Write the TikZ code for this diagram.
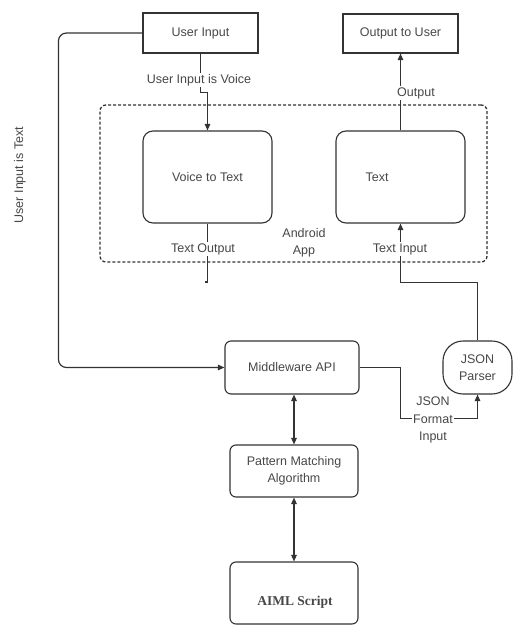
\documentclass[tikz,border=0pt]{standalone}
\usepackage{fontspec}
\setmainfont{Liberation Sans}
\newfontfamily\aimlfont{Liberation Serif}
\usetikzlibrary{arrows.meta}

\begin{document}
\begin{tikzpicture}[x=1pt,y=-1pt,
  >={Triangle[length=6.5pt,width=5.5pt]},
  every node/.style={font=\fontsize{12.5}{17.5}\selectfont,text=black!72},
  box/.style={draw=black!80,line width=1.1pt,inner sep=0pt,align=center},
  wire/.style={draw=black!80,line width=1.2pt},
  tag/.style={fill=white,inner sep=1pt,align=center}]
  \useasboundingbox (0,0) rectangle (513,626);
  % boxes
  \node[box,minimum width=115,minimum height=40] (uin) at (200.5,33) {User Input};
  \node[box,minimum width=115,minimum height=39] (out) at (400.5,33.5) {Output to User};
  \node[box,line width=1.3pt,dash pattern=on 3pt off 2pt,rounded corners=6,minimum width=387,minimum height=157] (app) at (293.5,183.5) {};
  \node[box,rounded corners=10,minimum width=129,minimum height=92] (v2t) at (207.5,177) {Voice to Text};
  \node[box,rounded corners=10,minimum width=129,minimum height=92] (txt) at (400.5,177) {};
  \node (txtname) at (377,177) {Text};
  \node[align=center] (andr) at (304,243) {Android\\App};
  \node[box,rounded corners=6,minimum width=134,minimum height=53] (mw) at (292,367.5) {Middleware API};
  \node[box,rounded corners=6,minimum width=128,minimum height=52] (pm) at (294,471) {Pattern Matching\\Algorithm};
  \node[box,rounded corners=6,minimum width=128,minimum height=62] (aiml) at (294,593) {};
  \node (aimlname) at (295,602) {\aimlfont\bfseries\fontsize{13.5}{16}\selectfont AIML Script};
  \node[box,rounded corners=20,minimum width=69,minimum height=53] (json) at (477.5,367.5) {JSON\\Parser};
  % connectors
  \draw[wire,->] (uin.south) |- ([yshift=38]v2t.north) -- (v2t.north);
  \node[tag] (voicelbl) at (199,80) {User Input is Voice};
  \coordinate (tend) at (207.5,282);
  \draw[wire] (v2t.south) -- (tend) -- ++(-3,0);
  \node[tag] (toutlbl) at (203,249) {Text Output};
  \draw[wire,->] (json.north) |- ([yshift=-59]txt.south) -- (txt.south);
  \node[tag] (tinlbl) at (400,249) {Text Input};
  \draw[wire,->] (txt.north) -- (out.south);
  \node[tag] (outlbl) at (416,93) {Output};
  \draw[wire,->,rounded corners=8] (uin.west) -| ([xshift=-166]mw.west) -- (mw.west);
  \node[rotate=90] (textlbl) at (20,175) {User Input is Text};
  \draw[wire,->] (mw.east) -- ++(41,0) |- ([yshift=-24]json.south) -- (json.south);
  \node[tag] (fmtlbl) at (433,420) {JSON\\Format\\Input};
  \draw[wire,<->] (mw.south -| pm.north) -- (pm.north);
  \draw[wire,<->] (pm.south) -- (aiml.north);
\end{tikzpicture}
\end{document}
